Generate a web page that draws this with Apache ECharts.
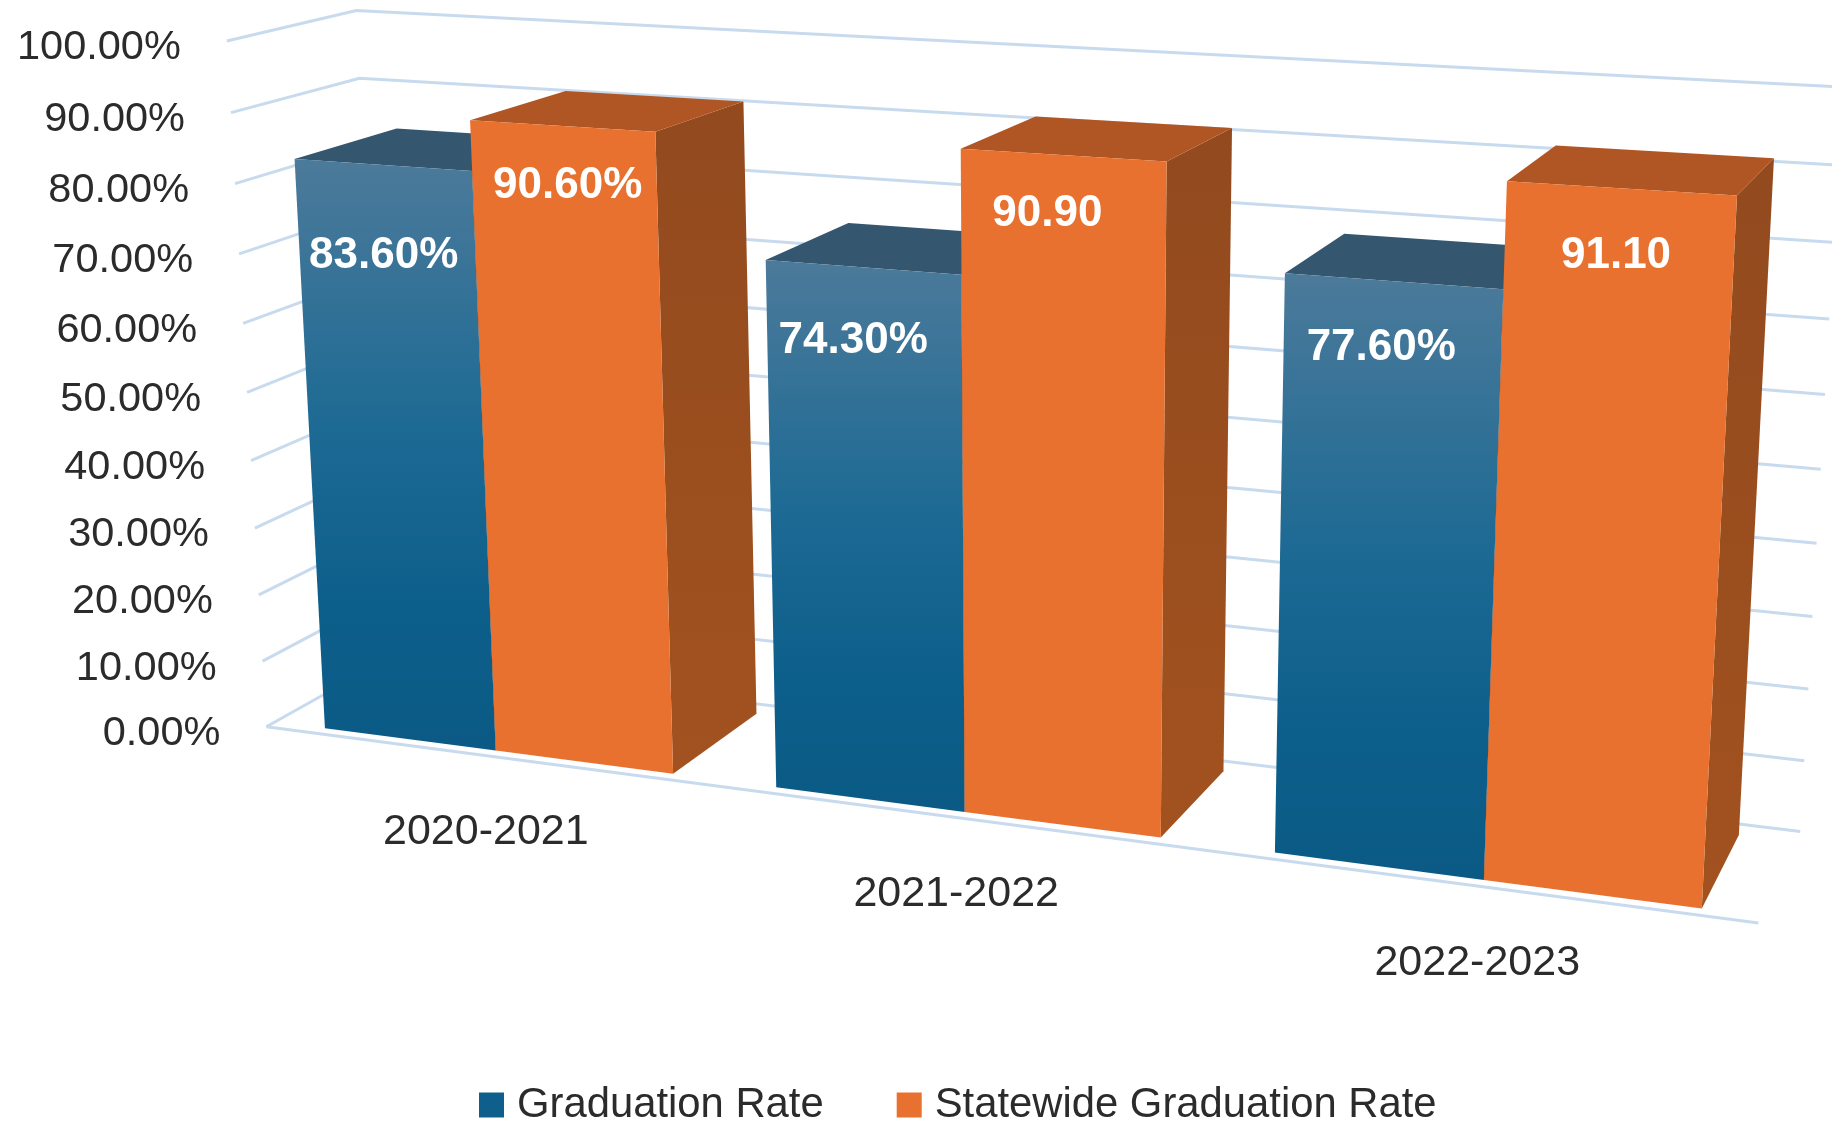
<!DOCTYPE html>
<html>
<head>
<meta charset="utf-8">
<style>html,body{margin:0;padding:0;background:#fff}#chart{width:1832px;height:1122px}</style>
<script src="https://cdn.jsdelivr.net/npm/echarts@6/dist/echarts.min.js"></script>
</head>
<body>
<div id="chart"></div>
<script>
// Chart values
const categories = ['2020-2021', '2021-2022', '2022-2023'];
const graduationRate = [83.6, 74.3, 77.6];
const statewideRate = [90.6, 90.9, 91.1];
const graduationLabels = ['83.60%', '74.30%', '77.60%'];
const statewideLabels = ['90.60%', '90.90', '91.10'];
const axisTicks = [0, 10, 20, 30, 40, 50, 60, 70, 80, 90, 100];
const axisTickLabels = ['0.00%', '10.00%', '20.00%', '30.00%', '40.00%', '50.00%', '60.00%', '70.00%', '80.00%', '90.00%', '100.00%'];

// Camera for the 3D box: origin, vanishing points and axis scales
const UNIT = 1832 / 1568;
const ORIGIN = [228, 622];
const VP_X = [-7462, -390], VP_Y = [894, 12170], VP_Z = [2050, -400];
const K_X = -0.04747, K_Y = -0.04837, K_Z = 0.0604;

// t: position along categories, f: share of the value axis, s: depth
function project(t, f, s) {
  const a = K_X * t, b = K_Y * f, c = K_Z * s;
  const w = 1 + a + b + c;
  return [
    UNIT * (ORIGIN[0] + a * VP_X[0] + b * VP_Y[0] + c * VP_Z[0]) / w,
    UNIT * (ORIGIN[1] + a * VP_X[1] + b * VP_Y[1] + c * VP_Z[1]) / w
  ];
}

// Bar layout inside a category band
const BAR_WIDTH = 0.39;
const BAR_SHIFT = 0.006;
const BAR_FRONT = 0.07, BAR_BACK = 0.88;
const FONT = '"Liberation Sans", Arial, sans-serif';
const TEXT_COLOR = '#2b2b2b';
const GRID_COLOR = '#c8daee';

// Nudges of the value labels from the centre of each bar's top front edge
const graduationNudge = [[1, 78], [-8, 63], [-10, 57]];
const statewideNudge = [[5, 51], [-13, 50], [-4, 58]];

// Reads a data point through the axes and returns box coordinates
function toBox(api, params, index, value) {
  const cs = params.coordSys;
  const p = api.coord([index, value]);
  const band = api.size([1, 0])[0];
  return { t: (p[0] - cs.x) / band, f: (cs.y + cs.height - p[1]) / cs.height };
}

function poly(points, fill) {
  return { type: 'polygon', shape: { points }, style: { fill, stroke: null } };
}

function label(text, pos, font, fill, align, vAlign) {
  return {
    type: 'text', x: pos[0], y: pos[1],
    style: { text, font, fill, align: align || 'center', verticalAlign: vAlign || 'middle',
             textAlign: align || 'center', textVerticalAlign: vAlign || 'middle' }
  };
}

function barRenderer(offset, colors, labels, nudges) {
  return function (params, api) {
    const i = api.value(0);
    const b = toBox(api, params, i, api.value(1));
    const x0 = b.t + BAR_SHIFT + offset, x1 = x0 + BAR_WIDTH;
    const fl = project(x0, b.f, BAR_FRONT), fr = project(x1, b.f, BAR_FRONT);
    const bl = project(x0, 0, BAR_FRONT), br = project(x1, 0, BAR_FRONT);
    const tl = project(x0, b.f, BAR_BACK), tr = project(x1, b.f, BAR_BACK);
    const rb = project(x1, 0, BAR_BACK);
    const mid = project((x0 + x1) / 2, b.f, BAR_FRONT);
    return {
      type: 'group',
      children: [
        poly([fr, tr, rb, br], colors.side),
        poly([fl, tl, tr, fr], colors.top),
        poly([fl, fr, br, bl], colors.front),
        label(labels[i], [mid[0] + nudges[i][0] * UNIT, mid[1] + nudges[i][1] * UNIT],
              'bold 44px ' + FONT, '#ffffff')
      ]
    };
  };
}

const blueFront = {
  type: 'linear', x: 0, y: 0, x2: 0, y2: 1,
  colorStops: [
    { offset: 0, color: '#4c7a9a' },
    { offset: 0.45, color: '#1d6a94' },
    { offset: 0.75, color: '#0d5f8b' },
    { offset: 1, color: '#0a5a85' }
  ]
};
const orangeSide = {
  type: 'linear', x: 0, y: 0, x2: 0, y2: 1,
  colorStops: [{ offset: 0, color: '#924a1e' }, { offset: 1, color: '#a2521f' }]
};

const option = {
  animation: false,
  backgroundColor: '#ffffff',
  grid: { left: 100, right: 100, top: 100, bottom: 100 },
  xAxis: { type: 'category', data: categories, show: false },
  yAxis: { type: 'value', min: 0, max: 100, interval: 10, show: false },
  legend: {
    left: 474, top: 1079, itemWidth: 25, itemHeight: 25, itemGap: 73,
    icon: 'rect',
    textStyle: { fontFamily: FONT, fontSize: 41.8, color: TEXT_COLOR, padding: [0, 0, 0, 8] },
    data: ['Graduation Rate', 'Statewide Graduation Rate']
  },
  series: [
    {
      // Wall gridlines and value axis labels
      type: 'custom', coordinateSystem: 'cartesian2d', silent: true, clip: false, z: 1,
      data: axisTicks.map(v => [0, v]),
      renderItem(params, api) {
        const b = toBox(api, params, 0, api.value(1));
        const pts = [project(0, b.f, 0), project(0, b.f, 1), project(3, b.f, 1)];
        const a = pts[0];
        const children = [
          { type: 'polyline', shape: { points: pts }, style: { stroke: GRID_COLOR, lineWidth: 3, fill: null } },
          label(axisTickLabels[params.dataIndex], [a[0] - 46, a[1] + 7], '41.5px ' + FONT, TEXT_COLOR, 'right')
        ];
        if (b.f === 0) {
          children.push({ type: 'line', shape: { x1: a[0], y1: a[1], x2: project(3, 0, 0)[0], y2: project(3, 0, 0)[1] },
                          style: { stroke: GRID_COLOR, lineWidth: 3 } });
        }
        return { type: 'group', children };
      }
    },
    {
      // Category labels below the floor
      type: 'custom', coordinateSystem: 'cartesian2d', silent: true, clip: false, z: 1,
      data: categories.map((c, i) => [i, 0]),
      renderItem(params, api) {
        const b = toBox(api, params, api.value(0), 0);
        const p = project(b.t, 0, 0);
        return label(categories[params.dataIndex], [p[0] + 1, p[1] + 66 * UNIT], '43px ' + FONT, TEXT_COLOR);
      }
    },
    {
      name: 'Graduation Rate', type: 'custom', coordinateSystem: 'cartesian2d', clip: false, z: 2,
      itemStyle: { color: '#0f5f8c' },
      data: graduationRate.map((v, i) => [i, v]),
      renderItem: barRenderer(-BAR_WIDTH, { front: blueFront, top: '#35566f', side: '#0a3f5f' }, graduationLabels, graduationNudge)
    },
    {
      name: 'Statewide Graduation Rate', type: 'custom', coordinateSystem: 'cartesian2d', clip: false, z: 3,
      itemStyle: { color: '#e8712f' },
      data: statewideRate.map((v, i) => [i, v]),
      renderItem: barRenderer(0, { front: '#e8712f', top: '#b05624', side: orangeSide }, statewideLabels, statewideNudge)
    }
  ]
};

const chart = echarts.init(document.getElementById('chart'));
chart.setOption(option);
</script>
</body>
</html>
